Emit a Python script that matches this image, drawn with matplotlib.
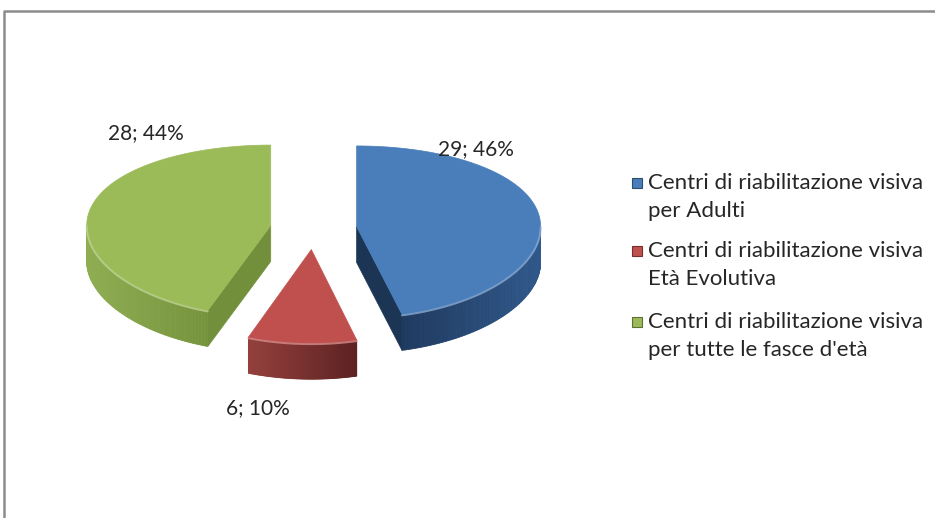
import numpy as np
import matplotlib.pyplot as plt
from matplotlib.patches import Polygon, Rectangle
from matplotlib.colors import to_rgb

# dati
categories = ["Centri di riabilitazione visiva\nper Adulti",
              "Centri di riabilitazione visiva\nEtà Evolutiva",
              "Centri di riabilitazione visiva\nper tutte le fasce d'età"]
values = [29, 6, 28]

# colori (stile Excel 2007)
top_colors = ['#4a7ebb', '#c0504d', '#9bbb59']
side_left = ['#1f3a5f', '#94403d', '#8fae52']
side_right = ['#30588b', '#5c2221', '#76933d']
wall_colors = ['#1d3554', '#6e2a28', '#728f3b']

# geometria della torta 3D (pixel)
CX, CY = 313.5, 229
RX, RY = 184, 86
PERSP = 0.06
DEPTH = 36
EXPLODE = 0.236
label_pos = [(476, 149), (258, 408), (146, 133)]

plt.rcParams['font.family'] = ['Lato', 'DejaVu Sans']


def proj(u, v, drop=0.0):
    """coordinate piane (u, v) -> pixel"""
    u = np.asarray(u, dtype=float)
    v = np.asarray(v, dtype=float)
    return CX + RX * u, CY - RY * (v - PERSP * v * v) + drop


def mix(c1, c2, f):
    a = np.array(to_rgb(c1))
    b = np.array(to_rgb(c2))
    return tuple(a * (1 - f) + b * f)


fig = plt.figure(figsize=(9.35, 5.18), dpi=100)
ax = fig.add_axes([0, 0, 1, 1])
ax.set_xlim(0, 935)
ax.set_ylim(518, 0)
ax.axis('off')

# cornice grigia
ax.plot([4, 4, 935], [518, 11, 11], color='#8c8c8c', lw=1.8, solid_capstyle='butt')

total = sum(values)
angles = np.concatenate([[0], np.cumsum(values) / total * 360.0])

for i, val in enumerate(values):
    t0, t1 = angles[i], angles[i + 1]
    mid = np.radians((t0 + t1) / 2)
    ou, ov = EXPLODE * np.sin(mid), EXPLODE * np.cos(mid)
    ts = np.radians(np.linspace(t0, t1, 160))
    au = ou + np.sin(ts)
    av = ov + np.cos(ts)
    ax_, ay_ = proj(au, av)
    cx_, cy_ = proj(ou, ov)

    # pareti radiali
    for t, sign in ((t0, -1), (t1, 1)):
        nrm = np.radians(t + sign * 90)
        if np.cos(nrm) < -0.05:
            eu, ev = ou + np.sin(np.radians(t)), ov + np.cos(np.radians(t))
            ex, ey = proj(eu, ev)
            quad = [(cx_, cy_), (ex, ey), (ex, ey + DEPTH), (cx_, cy_ + DEPTH)]
            ax.add_patch(Polygon(quad, closed=True, facecolor=wall_colors[i],
                                 edgecolor=wall_colors[i], lw=0.5))

    # fianco curvo (solo la parte frontale)
    front = np.cos(ts) < 0.02
    idx = np.where(front)[0]
    if len(idx) > 1:
        xmin, xmax = ax_[idx].min(), ax_[idx].max()
        for j in idx[:-1]:
            if not front[j + 1]:
                continue
            f = (0.5 * (ax_[j] + ax_[j + 1]) - xmin) / max(xmax - xmin, 1)
            col = mix(side_left[i], side_right[i], f)
            quad = [(ax_[j], ay_[j]), (ax_[j + 1], ay_[j + 1]),
                    (ax_[j + 1], ay_[j + 1] + DEPTH), (ax_[j], ay_[j] + DEPTH)]
            ax.add_patch(Polygon(quad, closed=True, facecolor=col,
                                 edgecolor=col, lw=0.6))

    # faccia superiore
    top = [(cx_, cy_)] + list(zip(ax_, ay_))
    ax.add_patch(Polygon(top, closed=True, facecolor=top_colors[i],
                         edgecolor=top_colors[i], lw=0.5))
    # bordo smussato chiaro
    if len(idx) > 1:
        ax.plot(ax_[idx], ay_[idx] + 1.0, color=mix(top_colors[i], '#ffffff', 0.35),
                lw=1.4, alpha=0.8, solid_capstyle='round')

    pct = round(100 * val / total)
    lx, ly = label_pos[i]
    ax.text(lx, ly, f"{val}; {pct}%", fontsize=15, color='#262626',
            ha='center', va='center')

# legenda
leg_y = [197, 265, 336]
for i, lab in enumerate(categories):
    y = leg_y[i]
    ax.add_patch(Rectangle((632, y - 19), 10, 10, facecolor=top_colors[i],
                           edgecolor=mix(top_colors[i], '#000000', 0.4), lw=0.8))
    ax.text(648, y, lab, fontsize=16, color='#262626', ha='left', va='center',
            linespacing=1.5)

fig.savefig('out.png', dpi=100)
